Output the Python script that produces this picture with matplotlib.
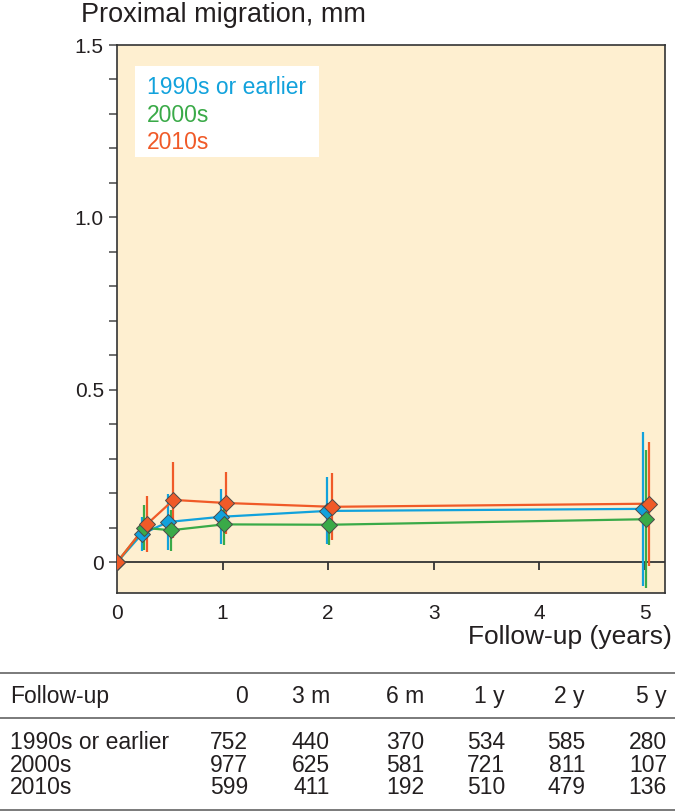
import matplotlib

matplotlib.use("Agg")
import matplotlib.pyplot as plt
import numpy as np
from matplotlib.lines import Line2D
from matplotlib.patches import Rectangle

plt.rcParams["font.family"] = ["Liberation Sans", "DejaVu Sans"]

# follow-up times (years) and mean proximal migration (mm) per decade
follow_up = np.array([0, 0.25, 0.5, 1, 2, 5])
series_names = ["1990s or earlier", "2000s", "2010s"]
mean_1990s = [0.0, 0.082, 0.117, 0.132, 0.149, 0.155]
mean_2000s = [0.0, 0.100, 0.093, 0.110, 0.109, 0.125]
mean_2010s = [0.0, 0.111, 0.181, 0.172, 0.161, 0.170]
err_1990s = [0.0, 0.050, 0.080, 0.080, 0.097, 0.223]
err_2000s = [0.0, 0.065, 0.060, 0.060, 0.060, 0.200]
err_2010s = [0.0, 0.080, 0.110, 0.090, 0.097, 0.180]

# table of numbers at each follow-up
table_header = ["Follow-up", "0", "3 m", "6 m", "1 y", "2 y", "5 y"]
n_1990s = [752, 440, 370, 534, 585, 280]
n_2000s = [977, 625, 581, 721, 811, 107]
n_2010s = [599, 411, 192, 510, 479, 136]

colors = ["#12A2DC", "#3AAA48", "#F05A28"]
dodge = [-0.015, 0.01, 0.035]
text_color = "#231F20"

fig = plt.figure(figsize=(6.75, 8.11), dpi=100)
ax = fig.add_axes([0.1733, 0.2692, 0.8119, 0.6753])
ax.set_facecolor("#FEEFD0")

means = [mean_1990s, mean_2000s, mean_2010s]
errs = [err_1990s, err_2000s, err_2010s]
for i in range(3):
    xs = np.where(follow_up > 0, follow_up + dodge[i], follow_up)
    ax.errorbar(xs, means[i], yerr=errs[i], fmt="none", ecolor=colors[i],
                elinewidth=1.6, capsize=0, zorder=2 + i)
    ax.plot(xs, means[i], "-", color=colors[i], lw=1.6, zorder=2 + i)
    ax.plot(xs, means[i], "D", ms=8, mfc=colors[i], mec="#4A4A4A", mew=0.7,
            linestyle="none", zorder=5 + i)

ax.set_xlim(0, 5.19)
ax.set_ylim(-0.088, 1.5)

# zero line with small ticks hanging from it
ax.axhline(0, color="#333333", lw=1.3, zorder=1)
xticks = np.arange(0, 6)
ax.vlines(xticks[1:], -0.023, 0, color="#333333", lw=1.3, zorder=1)

ax.set_xticks(xticks)
ax.set_xticklabels([str(t) for t in xticks])
ax.tick_params(axis="x", length=0, pad=8, labelsize=15, labelcolor=text_color)

ax.set_yticks([0, 0.5, 1.0, 1.5])
ax.set_yticklabels(["0", "0.5", "1.0", "1.5"])
ax.set_yticks(np.arange(0, 1.51, 0.1), minor=True)
ax.tick_params(axis="y", which="both", direction="out", length=6, width=1.2,
               color="#555555", pad=3.5, labelsize=15, labelcolor=text_color)
for sp in ax.spines.values():
    sp.set_color("#333333")
    sp.set_linewidth(1.2)

# white box behind the coloured legend labels
ax.add_patch(Rectangle((0.0328, 0.7964), 0.3358, 0.1659, transform=ax.transAxes,
                       facecolor="white", edgecolor="none", zorder=1.5))
handles = [Line2D([], [], linestyle="none", marker="none") for _ in series_names]
leg = ax.legend(handles, series_names, loc="upper left",
                bbox_to_anchor=(0.033, 0.9635), borderaxespad=0, borderpad=0.5,
                handlelength=0, handletextpad=0, labelspacing=0.19, fontsize=16.5,
                labelcolor=colors, frameon=False)

fig.text(81 / 675, 1 - 22 / 811, "Proximal migration, mm", fontsize=19.5,
         color=text_color, ha="left", va="baseline")
fig.text(672 / 675, 1 - 644 / 811, "Follow-up (years)", fontsize=19,
         color=text_color, ha="right", va="baseline")

# table under the chart
line_kw = dict(color="#7A7A7A", lw=1.4, transform=fig.transFigure)
for yy in [672.7, 718.3, 810]:
    fig.add_artist(Line2D([0, 1], [1 - yy / 811] * 2, **line_kw))

col_right = [248, 330, 424, 505, 585, 667]
fig.text(10 / 675, 1 - 702.7 / 811, table_header[0], fontsize=16.5,
         color=text_color, ha="left", va="baseline")
for xr, lab in zip(col_right, table_header[1:]):
    fig.text(xr / 675, 1 - 702.7 / 811, lab, fontsize=16.5, color=text_color,
             ha="right", va="baseline")

rows = [n_1990s, n_2000s, n_2010s]
row_base = [749.3, 771.8, 794.3]
for name, vals, yy in zip(series_names, rows, row_base):
    fig.text(10 / 675, 1 - yy / 811, name, fontsize=16.5, color=text_color,
             ha="left", va="baseline")
    for xr, v in zip(col_right, vals):
        fig.text(xr / 675, 1 - yy / 811, str(v), fontsize=16.5, color=text_color,
                 ha="right", va="baseline")

fig.savefig("out.png", dpi=100)
